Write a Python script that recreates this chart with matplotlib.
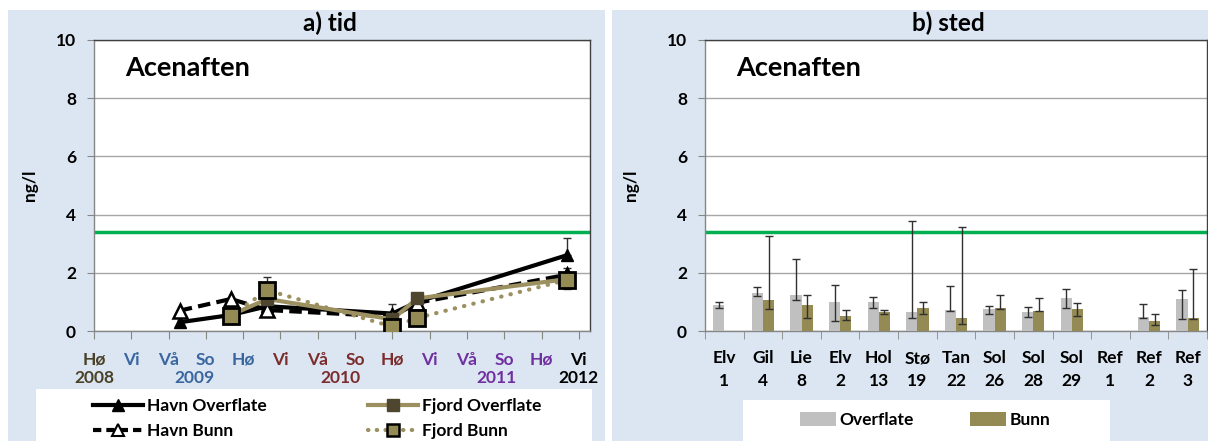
import numpy as np
import matplotlib
matplotlib.use("Agg")
import matplotlib.pyplot as plt
from matplotlib.patches import Rectangle, Patch
from matplotlib.lines import Line2D

plt.rcParams['font.family'] = ['Lato', 'DejaVu Sans']
plt.rcParams['font.weight'] = 'bold'

# ---- panel a) tid ----
seasons = ['Hø', 'Vi', 'Vå', 'So', 'Hø', 'Vi', 'Vå', 'So', 'Hø', 'Vi', 'Vå', 'So', 'Hø', 'Vi']
season_colors = ['#4a4228', '#3a66a0', '#3a66a0', '#3a66a0', '#3a66a0',
                 '#7b2c2c', '#7b2c2c', '#7b2c2c', '#7b2c2c',
                 '#7030a0', '#7030a0', '#7030a0', '#7030a0', '#000000']
years = ['2008', '2009', '2010', '2011', '2012']
year_pos = [0.0, 2.7, 6.6, 10.8, 13.0]
year_colors = ['#4a4228', '#3a66a0', '#7b2c2c', '#7030a0', '#000000']

havn_x = [2.3, 3.67, 4.65, 8.0, 8.67, 12.67]
havn_over = [0.3, 0.55, 0.85, 0.6, 1.0, 2.6]
havn_over_up = [np.nan, np.nan, np.nan, 0.93, np.nan, 3.2]
havn_bunn = [0.7, 1.1, 0.72, 0.5, 0.97, 1.93]
havn_bunn_up = [np.nan, np.nan, np.nan, np.nan, np.nan, 2.15]

fjord_x = [3.67, 4.65, 8.0, 8.67, 12.67]
fjord_over = [0.55, 1.1, 0.4, 1.12, 1.78]
fjord_bunn = [0.53, 1.4, 0.15, 0.45, 1.75]
fjord_bunn_up = [np.nan, 1.85, np.nan, np.nan, np.nan]
fjord_bunn_lo = [np.nan, np.nan, np.nan, np.nan, 1.45]

threshold = 3.4

# ---- panel b) sted ----
stations = ['Elv\n1', 'Gil\n4', 'Lie\n8', 'Elv\n2', 'Hol\n13', 'Stø\n19', 'Tan\n22',
            'Sol\n26', 'Sol\n28', 'Sol\n29', 'Ref\n1', 'Ref\n2', 'Ref\n3']
overflate = [0.9, 1.3, 1.23, 1.0, 1.0, 0.66, 0.72, 0.76, 0.64, 1.15, np.nan, 0.49, 1.09]
overflate_lo = [0.79, 1.19, 1.07, 0.35, 0.79, 0.43, 0.7, 0.57, 0.47, 0.79, np.nan, 0.44, 0.4]
overflate_hi = [0.99, 1.51, 2.48, 1.59, 1.17, 3.78, 1.55, 0.85, 0.81, 1.45, np.nan, 0.92, 1.42]
bunn = [np.nan, 1.08, 0.88, 0.51, 0.64, 0.79, 0.44, 0.79, 0.7, 0.76, np.nan, 0.35, 0.44]
bunn_lo = [np.nan, 0.76, 0.43, 0.37, 0.6, 0.59, 0.23, 0.77, 0.68, 0.53, np.nan, 0.2, 0.42]
bunn_hi = [np.nan, 3.28, 1.22, 0.71, 0.71, 1.01, 3.57, 1.24, 1.14, 0.95, np.nan, 0.57, 2.14]

BG = '#dce6f2'
TAN = '#9c9060'
OLIVE = '#948a54'
GREEN = '#00b050'
FS = 12.5

W, H = 1208, 441
fig = plt.figure(figsize=(W / 100, H / 100), dpi=100)


def fx(px):
    return px / W


def fy(py):
    return 1 - py / H


# panel backgrounds
fig.patches.append(Rectangle((fx(8), 0), fx(597), fy(10), transform=fig.transFigure,
                             facecolor=BG, edgecolor='none', zorder=-2))
fig.patches.append(Rectangle((fx(612), 0), fx(596), fy(10), transform=fig.transFigure,
                             facecolor=BG, edgecolor='none', zorder=-2))
# legend boxes
fig.patches.append(Rectangle((fx(36), 0), fx(556), fy(389), transform=fig.transFigure,
                             facecolor='white', edgecolor='none', zorder=-1))
fig.patches.append(Rectangle((fx(743), 0), fx(367), fy(400), transform=fig.transFigure,
                             facecolor='white', edgecolor='none', zorder=-1))


def style_axes(ax, pad):
    ax.set_zorder(2)
    ax.set_facecolor('white')
    ax.set_ylim(0, 10)
    ax.set_yticks([0, 2, 4, 6, 8, 10])
    ax.grid(axis='y', color='#a6a6a6', lw=1)
    ax.set_axisbelow(True)
    for s in ax.spines.values():
        s.set_color('#404040')
        s.set_linewidth(1)
    ax.spines['left'].set_color('#868686')
    ax.spines['bottom'].set_color('#868686')
    ax.tick_params(axis='y', length=5, color='#868686', labelsize=FS, pad=8)
    ax.set_ylabel('ng/l', fontsize=FS, fontweight='bold', labelpad=pad)
    ax.axhline(threshold, color=GREEN, lw=2.5, zorder=2)
    ax.text(0.063, 0.905, 'Acenaften', transform=ax.transAxes, fontsize=19.5,
            fontweight='bold', va='center', ha='left')


# ---- left axes ----
ax1 = fig.add_axes([fx(94), fy(331), fx(590 - 94), fy(40) - fy(331)])
style_axes(ax1, 13)
ax1.set_xlim(0, 13.3)
ax1.set_xticks(range(len(seasons)))
ax1.set_xticklabels(seasons, fontsize=FS)
for lab, c in zip(ax1.get_xticklabels(), season_colors):
    lab.set_color(c)
ax1.tick_params(axis='x', length=6, color='#868686', pad=9)
for yr, xp, c in zip(years, year_pos, year_colors):
    ax1.text(xp, -0.163, yr, transform=ax1.get_xaxis_transform(), ha='center',
             va='center', fontsize=FS, fontweight='bold', color=c)

ax1.plot(havn_x, havn_over, color='black', lw=3, marker='^', ms=9,
         mfc='black', mec='black', zorder=4)
ax1.plot(havn_x, havn_bunn, color='black', lw=3, ls=(0, (3, 1.5)), marker='^', ms=10,
         mfc='white', mec='black', mew=1.8, zorder=5)
ax1.plot(fjord_x, fjord_over, color=TAN, lw=3, marker='s', ms=9,
         mfc='#4f4630', mec='#4f4630', zorder=6)
ax1.plot(fjord_x, fjord_bunn, color=TAN, lw=3, ls=(0, (0.1, 2.2)), dash_capstyle='round',
         marker='s', ms=11, mfc=OLIVE, mec='black', mew=2, zorder=7)


def upper_err(ax, xs, ys, ups, z):
    for x, y, u in zip(xs, ys, ups):
        if not np.isnan(u):
            ax.errorbar([x], [y], yerr=[[0], [u - y]], fmt='none', ecolor='#303030',
                        elinewidth=1, capsize=3, zorder=z)


def lower_err(ax, xs, ys, los, z):
    for x, y, lo in zip(xs, ys, los):
        if not np.isnan(lo):
            ax.errorbar([x], [y], yerr=[[y - lo], [0]], fmt='none', ecolor='#303030',
                        elinewidth=1, capsize=3, zorder=z)


upper_err(ax1, havn_x, havn_over, havn_over_up, 3)
upper_err(ax1, havn_x, havn_bunn, havn_bunn_up, 3)
upper_err(ax1, fjord_x, fjord_bunn, fjord_bunn_up, 3)
lower_err(ax1, fjord_x, fjord_bunn, fjord_bunn_lo, 3)

fig.text(fx(330), fy(23), 'a) tid', ha='center', va='center', fontsize=17.5, fontweight='bold')

h1 = [
    Line2D([], [], color='black', lw=3, marker='^', ms=8, mfc='black'),
    Line2D([], [], color='black', lw=3, ls=(0, (2, 1.2)), marker='^', ms=9, mfc='white', mew=1.5),
    Line2D([], [], color=TAN, lw=3, marker='s', ms=8, mfc='#4f4630', mec='#4f4630'),
    Line2D([], [], color=TAN, lw=3, ls=(0, (0.1, 2)), dash_capstyle='round', marker='s',
           ms=9, mfc=OLIVE, mec='black', mew=1.8),
]
leg1 = fig.legend(h1, ['Havn Overflate', 'Havn Bunn', 'Fjord Overflate', 'Fjord Bunn'],
                  loc='upper left', bbox_to_anchor=(fx(86), fy(391)), ncol=2, frameon=False,
                  fontsize=FS, handlelength=2.9, handletextpad=0.2, columnspacing=5.85,
                  labelspacing=0.55, borderaxespad=0)
for t in leg1.get_texts():
    t.set_fontweight('bold')

# ---- right axes ----
ax2 = fig.add_axes([fx(705), fy(331), fx(1207 - 705), fy(40) - fy(331)])
style_axes(ax2, 20)
xi = np.arange(len(stations))
bw = 0.29
ax2.bar(xi - bw / 2, overflate, bw, color='#c0c0c0', zorder=3)
ax2.bar(xi + bw / 2, bunn, bw, color=OLIVE, zorder=3)
ov = np.array(overflate)
bu = np.array(bunn)
ax2.errorbar(xi - bw / 2, ov, yerr=[ov - np.array(overflate_lo), np.array(overflate_hi) - ov],
             fmt='none', ecolor='#303030', elinewidth=1, capsize=3, zorder=4)
ax2.errorbar(xi + bw / 2, bu, yerr=[bu - np.array(bunn_lo), np.array(bunn_hi) - bu],
             fmt='none', ecolor='#303030', elinewidth=1, capsize=3, zorder=4)
ax2.set_xlim(-0.5, len(stations) - 0.5)
ax2.set_xticks(xi)
ax2.set_xticklabels(stations, fontsize=FS, linespacing=1.5)
ax2.set_xticks(np.arange(-0.5, len(stations)), minor=True)
ax2.tick_params(axis='x', which='major', length=0, pad=14)
ax2.tick_params(axis='x', which='minor', length=6, color='#868686')

fig.text(fx(948), fy(23), 'b) sted', ha='center', va='center', fontsize=17.5, fontweight='bold')

h2 = [Patch(facecolor='#c0c0c0'), Patch(facecolor=OLIVE)]
leg2 = fig.legend(h2, ['Overflate', 'Bunn'], loc='center left',
                  bbox_to_anchor=(fx(793), fy(420)), ncol=2, frameon=False, fontsize=FS,
                  handlelength=2.1, handleheight=0.9, handletextpad=0.2, columnspacing=3.2,
                  borderaxespad=0)
for t in leg2.get_texts():
    t.set_fontweight('bold')

fig.savefig('out.png', dpi=100)
